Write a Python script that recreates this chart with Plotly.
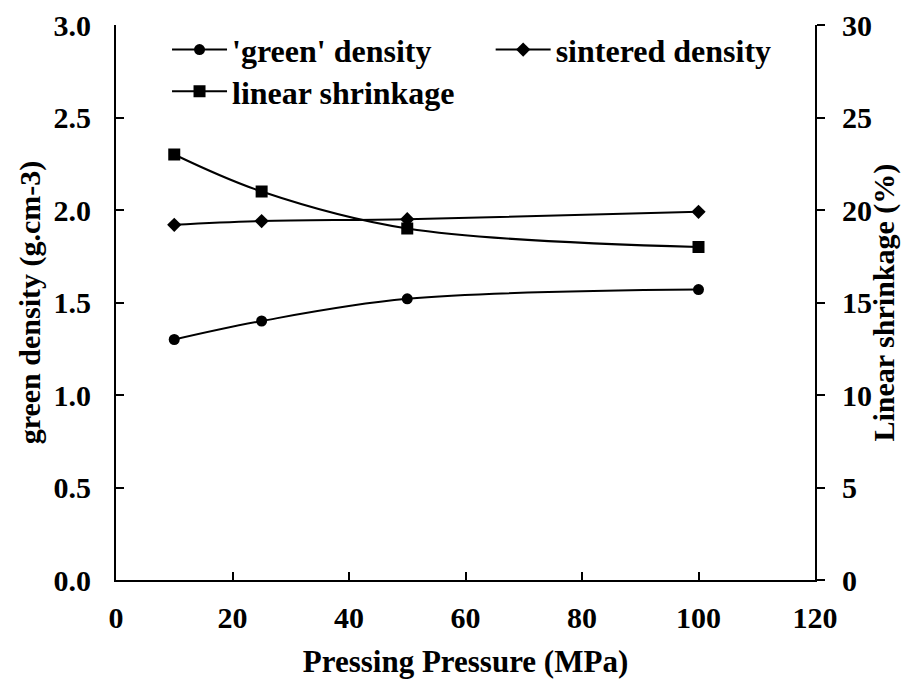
import plotly.graph_objects as go

pressure = [10, 25, 50, 100]
green_density = [1.30, 1.40, 1.52, 1.57]
sintered_density = [1.92, 1.94, 1.95, 1.99]
linear_shrinkage = [23, 21, 19, 18]

x_ticks = [0, 20, 40, 60, 80, 100, 120]
left_ticks = [0.0, 0.5, 1.0, 1.5, 2.0, 2.5, 3.0]
right_ticks = [0, 5, 10, 15, 20, 25, 30]

FONT = "Liberation Serif"

fig = go.Figure()
fig.add_trace(go.Scatter(
    x=pressure, y=green_density, name="<b>'green' density</b>",
    mode="lines+markers", line=dict(color="black", width=2, shape="spline"),
    marker=dict(symbol="circle", size=11, color="black"), legend="legend2"))
fig.add_trace(go.Scatter(
    x=pressure, y=sintered_density, name="<b>sintered density</b>",
    mode="lines+markers", line=dict(color="black", width=2, shape="spline"),
    marker=dict(symbol="diamond", size=11, color="black"), legend="legend3"))
fig.add_trace(go.Scatter(
    x=pressure, y=linear_shrinkage, name="<b>linear shrinkage</b>", yaxis="y2",
    mode="lines+markers", line=dict(color="black", width=2, shape="spline"),
    marker=dict(symbol="square", size=12, color="black"), legend="legend4"))

tick_font = dict(family=FONT, size=30, color="black")
title_font = dict(family=FONT, size=30, color="black")
legend_font = dict(family=FONT, size=32, color="black")

leg_common = dict(xanchor="left", yanchor="top", bgcolor="rgba(0,0,0,0)",
                  itemwidth=55, font=legend_font)

fig.update_layout(
    width=918, height=679,
    paper_bgcolor="white", plot_bgcolor="white",
    margin=dict(l=116, r=103, t=25, b=99, autoexpand=False),
    font=dict(family=FONT, color="black"),
    xaxis=dict(
        range=[0, 120], tickvals=x_ticks,
        ticktext=["<b>%d</b>" % v for v in x_ticks],
        showline=True, linecolor="black", linewidth=2, mirror=False,
        ticks="inside", ticklen=8, tickwidth=2, tickcolor="black",
        showgrid=False, zeroline=False, automargin=False,
        tickfont=tick_font, ticklabelstandoff=10,
        title=dict(text="<b>Pressing Pressure (MPa)</b>", font=dict(family=FONT, size=31, color="black"), standoff=17),
    ),
    yaxis=dict(
        range=[0, 3.0], tickvals=left_ticks,
        ticktext=["<b>%.1f</b>" % v for v in left_ticks],
        showline=True, linecolor="black", linewidth=2,
        ticks="inside", ticklen=8, tickwidth=2, tickcolor="black",
        showgrid=False, zeroline=False, automargin=False,
        tickfont=tick_font, ticklabelstandoff=17,
        title=dict(text="<b>green density (g.cm-3)</b>", font=title_font, standoff=4),
    ),
    yaxis2=dict(
        range=[0, 30], tickvals=right_ticks,
        ticktext=["<b>%d</b>" % v for v in right_ticks],
        overlaying="y", side="right",
        showline=True, linecolor="black", linewidth=2,
        ticks="outside", ticklen=8, tickwidth=2, tickcolor="black",
        showgrid=False, zeroline=False, automargin=False,
        tickfont=tick_font, ticklabelstandoff=11,
    ),
    annotations=[dict(
        text="<b>Linear shrinkage (%)</b>", font=title_font,
        xref="paper", yref="paper", x=1, y=0.5, xshift=68,
        xanchor="center", yanchor="middle", textangle=-90, showarrow=False,
    )],
    legend2=dict(x=0.073, y=1.005, **leg_common),
    legend3=dict(x=0.536, y=1.005, **leg_common),
    legend4=dict(x=0.073, y=0.93, **leg_common),
)

fig.write_html("out.html", config={"displayModeBar": False},
               post_script="document.body.style.margin='0px';")
